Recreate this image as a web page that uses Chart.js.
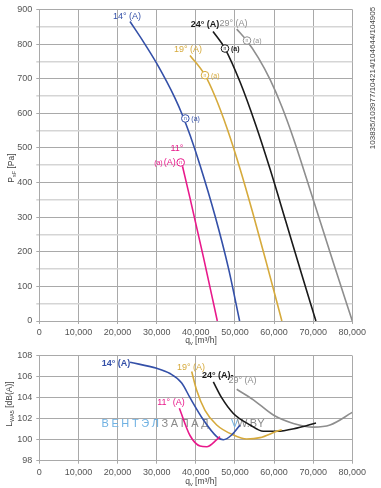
<!DOCTYPE html>
<html>
<head>
<meta charset="utf-8">
<script src="https://cdn.jsdelivr.net/npm/chart.js@4.4.0/dist/chart.umd.min.js"></script>
<style>
html, body { margin: 0; padding: 0; background: #fff; }
#wrap { position: relative; width: 381px; height: 488px; }
canvas { position: absolute; left: 0; }
</style>
</head>
<body>
<div id="wrap">
  <canvas id="pChart" width="381" height="345" style="top:0"></canvas>
  <canvas id="lChart" width="381" height="143" style="top:345px"></canvas>
</div>
<script>
// pressure curves: q [m3/h] -> psF [Pa]
const q11 = [36600, 38520, 41920, 45500];
const p11 = [447, 355, 186, 0];
const q14 = [23180, 26580, 30010, 34680, 36650, 38520, 41080, 44910, 48360, 51200];
const p14 = [865, 807, 744, 644, 593, 537, 450, 304, 152, 0];
const q19 = [38520, 42350, 44900, 48000, 51300, 54500, 58000, 62000];
const p19 = [767, 710, 649, 556, 440, 315, 170, 0];
const q24 = [44400, 47460, 51290, 55390, 59000, 63000, 67000, 70700];
const p24 = [836, 787, 691, 564, 438, 288, 137, 0];
const q29 = [50450, 53000, 56000, 59000, 62000, 65000, 70000, 75000, 80000];
const p29 = [843, 810, 760, 697, 619, 526, 351, 174, 0];

// sound power curves: q [m3/h] -> LWA5 [dB(A)]
const lq11 = [35800, 38520, 41080, 42790, 45340, 46190];
const lw11 = [103.0, 100.4, 99.4, 99.33, 100.0, 100.3];
const lq14 = [23200, 30000, 33400, 36400, 38520, 41920, 45340, 47040, 49170, 51300];
const lw14 = [107.37, 106.8, 106.3, 105.4, 104.0, 101.9, 100.3, 100.0, 100.45, 101.4];
const lq19 = [38950, 40220, 42350, 45340, 49600, 53000, 56420, 60700, 61950];
const lw19 = [106.5, 104.7, 102.8, 101.4, 100.45, 100.07, 100.2, 100.8, 100.95];
const lq24 = [44480, 46600, 49600, 53870, 57260, 60700, 65800, 70720];
const lw24 = [105.5, 104.0, 102.5, 101.4, 100.8, 100.8, 101.1, 101.6];
const lq29 = [50450, 54720, 59810, 64920, 70040, 74300, 80000];
const lw29 = [104.8, 103.8, 102.35, 101.55, 101.2, 101.4, 102.6];

// axes
const qTicks = [0, 10000, 20000, 30000, 40000, 50000, 60000, 70000, 80000];
const pTicks = [0, 100, 200, 300, 400, 500, 600, 700, 800, 900];
const lTicks = [98, 100, 102, 104, 106, 108];

const col = { c11: '#e8198b', c14: '#3450a8', c19: '#d6aa3c', c24: '#1a1a1a', c29: '#8e8e8e' };
const FONT = '"Liberation Sans", Arial, sans-serif';

const pts = (xs, ys) => xs.map((x, i) => ({ x: x, y: ys[i] }));
const line = (data, color) => ({
    data: data, borderColor: color, borderWidth: 1.6, showLine: true,
    pointRadius: 0, cubicInterpolationMode: 'monotone', fill: false
});

const fmt = v => v.toLocaleString('en-US');
const major = '#a9a9a9', minor = '#d5d5d5';

function xScale(height) {
    return {
        type: 'linear', min: 0, max: 80000,
        afterBuildTicks: s => { s.ticks = []; for (let v = 0; v <= 80000; v += 5000) s.ticks.push({ value: v }); },
        ticks: {
            font: { family: FONT, size: 9 }, color: '#555', padding: 3, maxRotation: 0,
            callback: v => qTicks.includes(v) ? fmt(v) : ''
        },
        grid: {
            tickLength: 3,
            color: c => qTicks.includes(c.tick.value) ? major : minor,
            lineWidth: c => qTicks.includes(c.tick.value) ? 1 : 1.6
        },
        border: { color: major },
        afterFit: s => { s.height = height; }
    };
}

// text with subscript, optionally rotated
function subText(ctx, x, y, base, sub, rest, rot) {
    ctx.save();
    ctx.translate(x, y);
    if (rot) ctx.rotate(-Math.PI / 2);
    ctx.fillStyle = '#444';
    ctx.textBaseline = 'middle';
    ctx.font = '8.5px ' + FONT;
    const wb = ctx.measureText(base).width;
    ctx.font = '5.5px ' + FONT;
    const ws = ctx.measureText(sub).width;
    ctx.font = '8.5px ' + FONT;
    const wr = ctx.measureText(rest).width;
    let cx = -(wb + ws + wr) / 2;
    ctx.textAlign = 'left';
    ctx.fillText(base, cx, 0); cx += wb;
    ctx.font = '5.5px ' + FONT;
    ctx.fillText(sub, cx, 2.5); cx += ws;
    ctx.font = '8.5px ' + FONT;
    ctx.fillText(rest, cx, 0);
    ctx.restore();
}

function note(ctx, x, y, text, color, bold, align, size) {
    ctx.font = (bold ? 'bold ' : '') + (size || 9) + 'px ' + FONT;
    ctx.fillStyle = color;
    ctx.textAlign = align || 'center';
    ctx.textBaseline = 'middle';
    ctx.fillText(text, x, y);
}

function marker(ctx, x, y, color) {
    ctx.save();
    ctx.strokeStyle = color; ctx.lineWidth = 1;
    ctx.fillStyle = '#fff';
    ctx.beginPath(); ctx.arc(x, y, 3.8, 0, Math.PI * 2); ctx.fill(); ctx.stroke();
    ctx.font = '5px ' + FONT; ctx.fillStyle = color;
    ctx.textAlign = 'center'; ctx.textBaseline = 'middle';
    ctx.fillText('n', x, y + 0.3);
    ctx.restore();
}

const topLabels = [
    ['14° (A)', 22410, 879, col.c14, false],
    ['19° (A)', 38000, 785, col.c19, false],
    ['24° (A)', 42350, 856, col.c24, true],
    ['29° (A)', 49640, 859, col.c29, false],
    ['11°', 35190, 498, col.c11, false]
];
const topMarks = [
    [37320, 585, col.c14, false, 'right'],
    [42350, 710, col.c19, false, 'right'],
    [47460, 787, col.c24, true, 'right'],
    [53090, 810, col.c29, false, 'right'],
    [36140, 458, col.c11, false, 'left']
];

const topNotes = {
    id: 'topNotes',
    afterDatasetsDraw(chart) {
        const { ctx, scales: { x, y } } = chart;
        ctx.save();
        topLabels.forEach(l => note(ctx, x.getPixelForValue(l[1]), y.getPixelForValue(l[2]), l[0], l[3], l[4]));
        topMarks.forEach(m => {
            const px = x.getPixelForValue(m[0]), py = y.getPixelForValue(m[1]);
            marker(ctx, px, py, m[2]);
            if (m[4] === 'right') {
                note(ctx, px + 6, py + 1, '(a)', m[2], m[3], 'left', 7);
            } else {
                note(ctx, px - 5, py, '(A)', m[2], false, 'right', 9);
                note(ctx, px - 18, py + 1, '(a)', m[2], false, 'right', 7);
            }
        });
        subText(ctx, 12, 168, 'P', 'sF', ' [Pa]', true);
        subText(ctx, 201, 341, 'q', 'v', ' [m³/h]', false);
        ctx.save();
        ctx.translate(373, 78);
        ctx.rotate(-Math.PI / 2);
        note(ctx, 0, 0, '103835/103977/104214/104644/104905', '#444', false, 'center', 8);
        ctx.restore();
        ctx.restore();
    }
};

new Chart(document.getElementById('pChart'), {
    type: 'scatter',
    data: {
        datasets: [
            line(pts(q11, p11), col.c11),
            line(pts(q14, p14), col.c14),
            line(pts(q19, p19), col.c19),
            line(pts(q24, p24), col.c24),
            line(pts(q29, p29), col.c29)
        ]
    },
    options: {
        responsive: false, animation: false, devicePixelRatio: 1,
        layout: { padding: { left: 0, right: 28.7, top: 6.7, bottom: 0 } },
        plugins: { legend: { display: false }, tooltip: { enabled: false } },
        scales: {
            x: xScale(24),
            y: {
                type: 'linear', min: 0, max: 900,
                afterBuildTicks: s => { s.ticks = []; for (let v = 0; v <= 900; v += 50) s.ticks.push({ value: v }); },
                ticks: {
                    font: { family: FONT, size: 9 }, color: '#555', padding: 4,
                    callback: v => pTicks.includes(v) ? String(v) : ''
                },
                grid: {
                    tickLength: 3,
                    color: c => pTicks.includes(c.tick.value) ? major : minor,
                    lineWidth: c => pTicks.includes(c.tick.value) ? 1 : 1.6
                },
                border: { color: major },
                afterFit: s => { s.width = 39.3; }
            }
        }
    },
    plugins: [topNotes]
});

const lowLabels = [
    ['14° (A)', 19600, 107.3, col.c14, true],
    ['19° (A)', 38770, 106.83, col.c19, false],
    ['11° (A)', 33660, 103.5, col.c11, false],
    ['24° (A)-', 45600, 106.07, col.c24, true],
    ['29° (A)', 51940, 105.6, col.c29, false]
];

const lowNotes = {
    id: 'lowNotes',
    beforeDatasetsDraw(chart) {
        // watermark
        const { ctx } = chart;
        ctx.save();
        ctx.font = '11px ' + FONT;
        ctx.textBaseline = 'middle';
        ctx.textAlign = 'left';
        let cx = 101.5;
        const word = 'ВЕНТЭЛЗАПАД';
        for (let i = 0; i < word.length; i++) {
            ctx.fillStyle = i < 6 ? '#6fb1e2' : '#8a8a8a';
            ctx.fillText(word[i], cx, 79);
            cx += ctx.measureText(word[i]).width + 2.6;
        }
        ctx.fillStyle = '#6fb1e2';
        ctx.fillText('V', 231, 79);
        ctx.fillStyle = '#8a8a8a';
        ctx.fillText('W.BY', 237, 79);
        ctx.restore();
    },
    afterDatasetsDraw(chart) {
        const { ctx, scales: { x, y } } = chart;
        ctx.save();
        lowLabels.forEach(l => note(ctx, x.getPixelForValue(l[1]), y.getPixelForValue(l[2]), l[0], l[3], l[4]));
        subText(ctx, 10, 59, 'L', 'WA5', ' [dB(A)]', true);
        subText(ctx, 201, 137, 'q', 'v', ' [m³/h]', false);
        ctx.restore();
    }
};

new Chart(document.getElementById('lChart'), {
    type: 'scatter',
    data: {
        datasets: [
            line(pts(lq11, lw11), col.c11),
            line(pts(lq14, lw14), col.c14),
            line(pts(lq19, lw19), col.c19),
            line(pts(lq24, lw24), col.c24),
            line(pts(lq29, lw29), col.c29)
        ]
    },
    options: {
        responsive: false, animation: false, devicePixelRatio: 1,
        layout: { padding: { left: 0, right: 28.7, top: 10.7, bottom: 0 } },
        plugins: { legend: { display: false }, tooltip: { enabled: false } },
        scales: {
            x: xScale(27.3),
            y: {
                type: 'linear', min: 98, max: 108,
                afterBuildTicks: s => { s.ticks = lTicks.map(v => ({ value: v })); },
                ticks: { font: { family: FONT, size: 9 }, color: '#555', padding: 4 },
                grid: { tickLength: 3, color: major, lineWidth: 1 },
                border: { color: major },
                afterFit: s => { s.width = 39.3; }
            }
        }
    },
    plugins: [lowNotes]
});
</script>
</body>
</html>
